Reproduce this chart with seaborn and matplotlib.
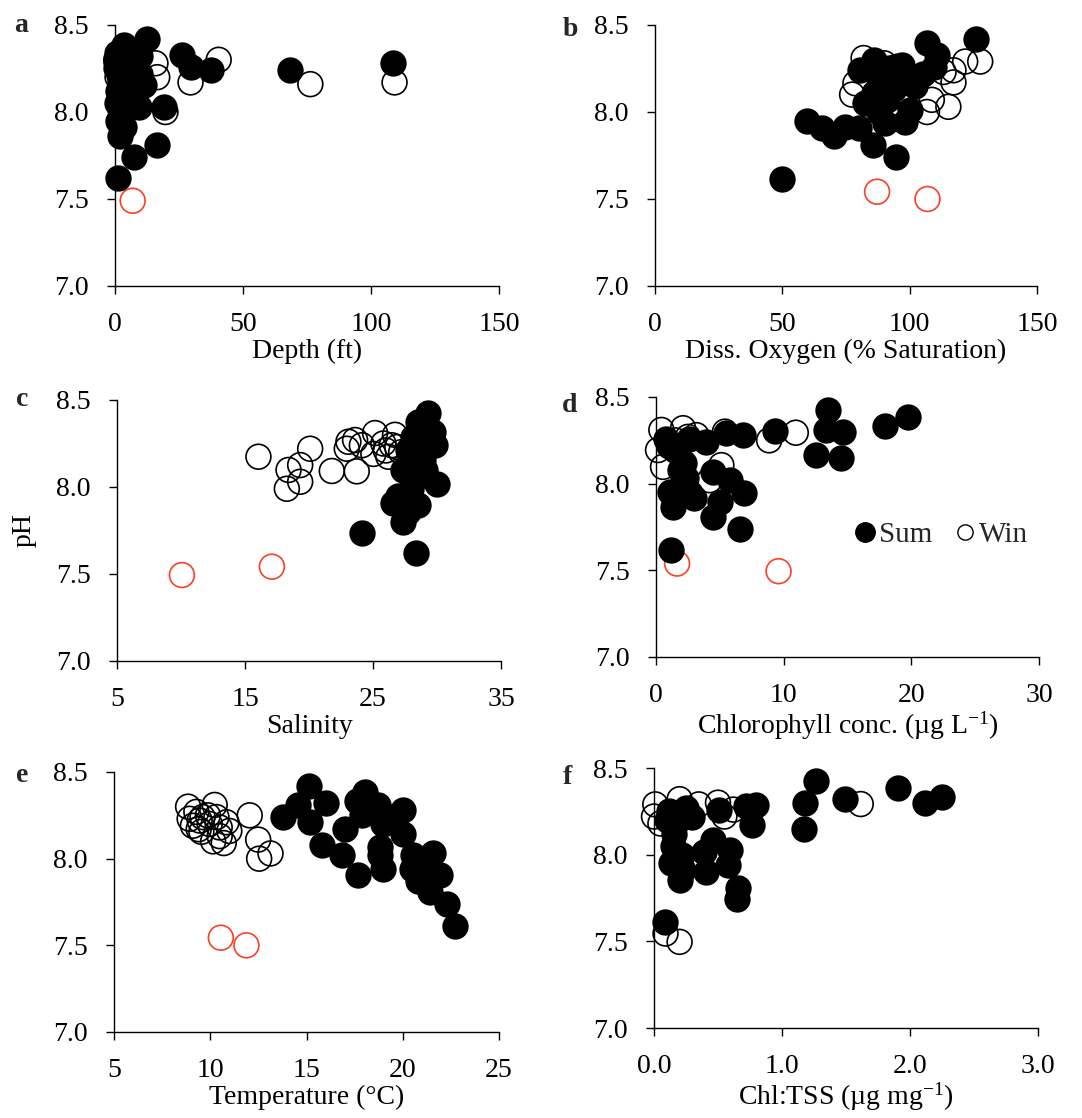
import matplotlib
matplotlib.use("Agg")
import matplotlib.pyplot as plt
from matplotlib.lines import Line2D
import seaborn as sns

# ============================================================
# DATA
# ============================================================
# a: depth (ft)
depth_sum = [0.5, 1.5, 3.4, 12.5, 2.1, 9.9, 9.9, 2.1, 11.2, 1.0, 2.1, 9.3, 2.8, 3.4,
             2.1, 0.5, 7.5, 16.5, 19.0, 26.0, 29.5, 37.5, 68.5, 108.5, 1.2, 0.8, 4.5, 5.0,
             1.0, 3.0, 6.0, 0.8]
ph_depth_sum = [8.29, 8.21, 8.385, 8.42, 8.28, 8.32, 8.22, 8.17, 8.155, 8.12, 8.09, 8.03, 7.99, 7.915,
                7.86, 8.25, 7.74, 7.81, 8.03, 8.33, 8.26, 8.24, 8.24, 8.28, 7.62, 8.05, 8.19, 8.26,
                7.95, 8.13, 8.08, 8.34]
depth_win = [40.5, 29.5, 76.3, 109.2, 16.5, 15.8, 19.7, 1.0, 2.0, 3.0, 0.5, 4.0, 1.5]
ph_depth_win = [8.30, 8.17, 8.16, 8.17, 8.20, 8.28, 8.00, 8.20, 8.25, 8.10, 8.30, 8.15, 8.05]
depth_out = [6.9]
ph_depth_out = [7.49]

# b: dissolved oxygen (% saturation)
do_sum = [49.9, 59.7, 65.6, 70.2, 74.8, 80.0, 85.5, 94.7, 126.1, 106.8, 110.7, 80.6, 85.8, 97.0, 82.6,
          90.4, 98.3, 100.2, 91.1, 88.5, 98.9, 105.4, 109.4, 93.7, 85.8, 95.0, 102.0, 92.0, 88.0]
ph_do_sum = [7.613, 7.95, 7.91, 7.86, 7.915, 7.91, 7.81, 7.74, 8.418, 8.395, 8.33, 8.24, 8.30, 8.27, 8.05,
             7.935, 7.944, 8.01, 8.07, 8.18, 8.18, 8.22, 8.26, 8.13, 8.11, 8.20, 8.15, 8.25, 8.00]
do_win = [127.7, 121.8, 117.2, 117.2, 115.2, 106.8, 108.7, 81.9, 77.4, 78.7, 113.3, 95.0, 90.0, 100.0]
ph_do_win = [8.29, 8.29, 8.24, 8.17, 8.03, 8.00, 8.07, 8.31, 8.10, 8.165, 8.23, 8.26, 8.28, 8.20]
do_out = [87.2, 107.0]
ph_do_out = [7.542, 7.50]

# c: salinity
sal_sum = [29.33, 28.54, 29.72, 29.85, 28.15, 27.76, 28.93, 27.37, 28.42, 29.98, 26.59, 28.54, 27.37,
           27.76, 27.6, 24.13, 28.36, 26.98, 28.8, 27.9, 29.1, 28.0]
ph_sal_sum = [8.423, 8.375, 8.318, 8.24, 8.29, 8.213, 8.155, 8.098, 8.06, 8.02, 7.906, 7.897, 7.80,
              7.858, 7.906, 7.737, 7.62, 7.95, 8.25, 8.17, 8.10, 7.99]
sal_win = [16.05, 20.09, 18.4, 19.31, 18.27, 19.31, 21.78, 23.73, 23.08, 23.6, 22.95, 24.13, 25.16,
           25.03, 25.81, 26.72, 26.47, 26.2, 26.9, 26.0, 27.2]
ph_sal_win = [8.174, 8.22, 8.098, 8.126, 7.99, 8.03, 8.092, 8.09, 8.26, 8.27, 8.22, 8.24, 8.31,
              8.19, 8.25, 8.30, 8.24, 8.174, 8.23, 8.21, 8.20]
sal_out = [10.07, 17.1]
ph_sal_out = [7.494, 7.542]

# d: chlorophyll (ug/L)
chl_sum = [13.48, 13.35, 14.66, 12.52, 14.47, 17.92, 19.75, 9.3, 6.56, 6.87, 4.47, 4.99, 5.78, 4.47, 1.2,
           1.33, 1.07, 2.64, 2.38, 0.81, 1.6, 3.95, 5.52, 6.82, 2.6, 1.85, 3.0, 2.2, 1.0]
ph_chl_sum = [8.425, 8.31, 8.30, 8.165, 8.146, 8.33, 8.383, 8.304, 7.741, 7.944, 7.808, 7.895, 8.02, 8.068,
              7.616, 7.866, 7.953, 7.944, 8.03, 8.26, 8.19, 8.24, 8.29, 8.28, 8.26, 8.08, 7.92, 8.12, 8.22]
chl_win = [0.42, 0.16, 0.55, 2.12, 3.16, 8.86, 10.95, 5.12, 4.2, 5.4, 1.5, 2.5]
ph_chl_win = [8.31, 8.194, 8.097, 8.32, 8.28, 8.25, 8.294, 8.107, 8.02, 8.30, 8.25, 8.27]
chl_out = [1.65, 9.6]
ph_chl_out = [7.539, 7.495]

# e: temperature (C)
temp_sum = [15.14, 13.78, 14.56, 15.16, 16.0, 15.78, 16.82, 16.99, 17.68, 18.03, 17.6, 17.86, 18.72, 18.98,
            18.81, 18.81, 18.98, 19.99, 20.02, 20.54, 20.46, 20.8, 21.24, 21.58, 21.93, 21.41, 22.28,
            22.71, 19.33]
ph_temp_sum = [8.42, 8.24, 8.31, 8.21, 8.32, 8.08, 8.02, 8.17, 7.905, 8.385, 8.33, 8.25, 8.31, 8.20,
               8.07, 8.02, 7.94, 8.28, 8.145, 8.02, 7.94, 7.87, 7.98, 8.03, 7.905, 7.81, 7.74, 7.61, 8.24]
temp_win = [8.85, 9.28, 9.45, 9.1, 8.93, 9.54, 9.97, 10.23, 10.32, 10.49, 10.15, 10.70, 10.84, 10.99,
            9.88, 9.6, 9.4, 10.49, 12.05, 12.49, 12.54, 13.13]
ph_temp_win = [8.30, 8.27, 8.22, 8.19, 8.23, 8.155, 8.20, 8.31, 8.24, 8.18, 8.10, 8.09, 8.21, 8.16,
               8.25, 8.24, 8.17, 8.13, 8.25, 8.11, 8.00, 8.03]
temp_out = [10.55, 11.88]
ph_temp_out = [7.544, 7.50]

# f: Chl:TSS (ug/mg)
ctss_sum = [1.265, 1.179, 1.171, 1.492, 1.909, 2.118, 2.249, 0.80, 0.762, 0.72, 0.657, 0.652, 0.084, 0.592,
            0.58, 0.41, 0.46, 0.39, 0.201, 0.175, 0.23, 0.51, 0.17, 0.12, 0.3, 0.15, 0.25, 0.1,
            0.16, 0.22, 0.13]
ph_ctss_sum = [8.423, 8.30, 8.147, 8.32, 8.384, 8.30, 8.332, 8.288, 8.172, 8.28, 7.806, 7.742, 7.613, 8.027,
               7.94, 7.90, 8.085, 8.018, 7.854, 7.94, 7.91, 8.26, 8.18, 8.25, 8.22, 8.05, 8.27, 8.20,
               8.12, 8.00, 7.95]
ctss_win = [1.615, 0.01, 0.20, 0.62, 0.5, 0.0, 0.09, 0.2, 0.35, 0.05, 0.55]
ph_ctss_win = [8.292, 8.29, 8.32, 8.26, 8.30, 8.22, 7.545, 7.497, 8.29, 8.18, 8.22]

# ============================================================
# STYLE
# ============================================================
sns.set_theme(style="ticks")
plt.rcParams["font.family"] = ["Liberation Serif", "DejaVu Serif"]
plt.rcParams["mathtext.fontset"] = "custom"
plt.rcParams["mathtext.rm"] = "Liberation Serif"
plt.rcParams["mathtext.it"] = "Liberation Serif:italic"
plt.rcParams["axes.linewidth"] = 1.0
plt.rcParams["axes.edgecolor"] = "black"

FS = 20
RED = "#fb4024"
W, H = 1082, 1118

fig = plt.figure(figsize=(W / 100, H / 100), dpi=100)


def rect(left, top, right, bottom):
    return [left / W, 1 - bottom / H, (right - left) / W, (bottom - top) / H]


panels = [
    # letter, rect, sum, win, out, xlim, xticks, xlabel, fmt
    ("a", rect(115, 25, 499, 286), (depth_sum, ph_depth_sum), (depth_win, ph_depth_win),
     (depth_out, ph_depth_out), (0, 150), [0, 50, 100, 150], "Depth (ft)", "{:.0f}"),
    ("b", rect(655, 25, 1037, 286), (do_sum, ph_do_sum), (do_win, ph_do_win),
     (do_out, ph_do_out), (0, 150), [0, 50, 100, 150], "Diss. Oxygen (% Saturation)", "{:.0f}"),
    ("c", rect(117, 400, 501, 661), (sal_sum, ph_sal_sum), (sal_win, ph_sal_win),
     (sal_out, ph_sal_out), (5, 35), [5, 15, 25, 35], "Salinity", "{:.0f}"),
    ("d", rect(656, 397, 1039, 657), (chl_sum, ph_chl_sum), (chl_win, ph_chl_win),
     (chl_out, ph_chl_out), (0, 30), [0, 10, 20, 30], r"Chlorophyll conc. (µg L$^{\mathregular{-1}}$)", "{:.0f}"),
    ("e", rect(114, 772, 499, 1032), (temp_sum, ph_temp_sum), (temp_win, ph_temp_win),
     (temp_out, ph_temp_out), (5, 25), [5, 10, 15, 20, 25], "Temperature (°C)", "{:.0f}"),
    ("f", rect(654, 768, 1038, 1028), (ctss_sum, ph_ctss_sum), (ctss_win, ph_ctss_win),
     None, (0, 3), [0, 1, 2, 3], r"Chl:TSS (µg mg$^{\mathregular{-1}}$)", "{:.1f}"),
]

letter_pos = {"a": (21, 26), "b": (570, 30), "c": (22, 400),
              "d": (570, 405), "e": (22, 775), "f": (567, 777)}

for letter, r, summ, win, out, xlim, xticks, xlabel, fmt in panels:
    ax = fig.add_axes(r)
    # winter: open black circles (drawn first, under summer)
    sns.scatterplot(x=win[0], y=win[1], ax=ax, s=320, facecolor="none",
                    edgecolor="black", linewidth=1.2, clip_on=False, zorder=3)
    # outliers: open red circles
    if out is not None:
        sns.scatterplot(x=out[0], y=out[1], ax=ax, s=320, facecolor="none",
                        edgecolor=RED, linewidth=1.2, clip_on=False, zorder=3)
    # summer: filled black circles
    sns.scatterplot(x=summ[0], y=summ[1], ax=ax, s=360, color="black",
                    edgecolor="black", linewidth=0, clip_on=False, zorder=4)

    ax.set_xlim(*xlim)
    ax.set_ylim(7.0, 8.5)
    ax.set_xticks(xticks)
    ax.set_xticklabels([fmt.format(t) for t in xticks])
    ax.set_yticks([7.0, 7.5, 8.0, 8.5])
    ax.set_yticklabels(["7.0", "7.5", "8.0", "8.5"])
    ax.tick_params(axis="both", direction="out", length=6, width=1.0,
                   labelsize=FS, pad=13, colors="black")
    ax.set_xlabel(xlabel, fontsize=FS, labelpad=1, color="black")
    ax.set_ylabel("pH" if letter == "c" else "", fontsize=FS, labelpad=14, color="black")
    sns.despine(ax=ax)

    lx, ly = letter_pos[letter]
    fig.text(lx / W, 1 - ly / H, letter, fontsize=FS, fontweight="bold",
             ha="center", va="center")

    if letter == "d":
        handles = [
            Line2D([], [], ls="none", marker="o", markersize=14, color="black"),
            Line2D([], [], ls="none", marker="o", markersize=11, markerfacecolor="none",
                   markeredgecolor="black", markeredgewidth=1.0),
        ]
        ax.legend(handles, ["Sum", "Win"], loc="center", bbox_to_anchor=(0.74, 0.47),
                  ncol=2, frameon=False, fontsize=21, handletextpad=0.0,
                  columnspacing=0.6, handlelength=1.0, borderpad=0)

fig.savefig("out.png", dpi=100, facecolor="white")
